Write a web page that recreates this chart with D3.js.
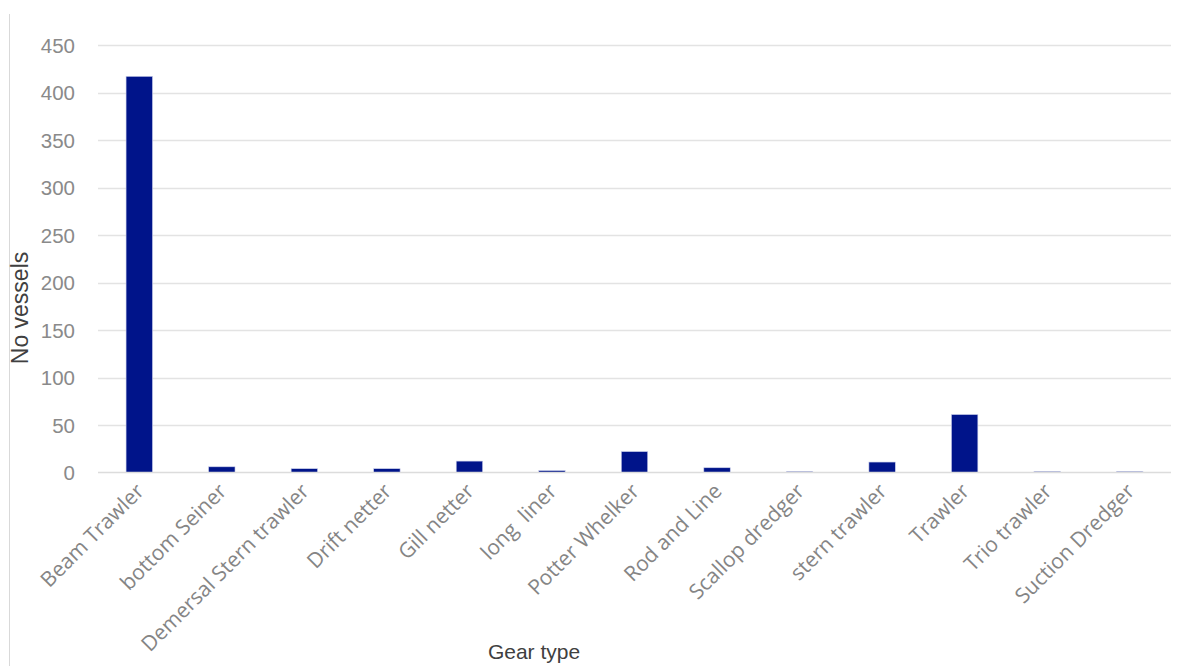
<!DOCTYPE html>
<html>
<head>
<meta charset="utf-8">
<script src="https://cdn.jsdelivr.net/npm/d3@7"></script>
<style>
  html, body { margin: 0; padding: 0; background: #fff; }
  svg { display: block; }
  text { white-space: pre; }
</style>
</head>
<body>
<svg id="chart" width="1181" height="666"></svg>
<script>
// Number of vessels per gear type
const categories = ["Beam Trawler", "bottom Seiner", "Demersal Stern trawler", "Drift netter",
  "Gill netter", "long  liner", "Potter Whelker", "Rod and Line", "Scallop dredger",
  "stern trawler", "Trawler", "Trio trawler", "Suction Dredger"];
const vessels = [417, 6, 4, 4, 12, 2, 22, 5, 1, 11, 61, 1, 1];
const yTicks = [0, 50, 100, 150, 200, 250, 300, 350, 400, 450];

const svg = d3.select("#chart");
const margin = { left: 98, right: 1171, top: 45, bottom: 472.5 };

const x = d3.scaleBand().domain(categories).range([margin.left, margin.right]).paddingInner(0.68).paddingOuter(0.34);
const y = d3.scaleLinear().domain([0, 450]).range([margin.bottom, margin.top]);

// chart frame edge
svg.append("line").attr("x1", 9.5).attr("x2", 9.5).attr("y1", 14).attr("y2", 666)
  .attr("stroke", "#d9d9d9").attr("stroke-width", 1);

// gridlines
svg.append("g").selectAll("line").data(yTicks.filter(d => d > 0)).join("line")
  .attr("x1", margin.left).attr("x2", margin.right)
  .attr("y1", d => Math.round(y(d)) + 0.5).attr("y2", d => Math.round(y(d)) + 0.5)
  .attr("stroke", "#e3e3e3").attr("stroke-width", 1.3);

// y axis labels
const yAxis = d3.axisLeft(y).tickValues(yTicks).tickSize(0).tickPadding(0);
const gy = svg.append("g").attr("transform", `translate(${75},0)`).call(yAxis);
gy.select(".domain").remove();
gy.selectAll("text").attr("font-family", "Liberation Sans, Arial, sans-serif")
  .attr("font-size", 20.5).attr("fill", "#8a8a8a").attr("dy", "0.36em");

// bars
svg.append("g").selectAll("rect").data(vessels).join("rect")
  .attr("x", (d, i) => x(categories[i]))
  .attr("width", x.bandwidth())
  .attr("y", d => y(d))
  .attr("height", d => y(0) - y(d))
  .attr("fill", "#00148a")
  .attr("stroke", "#c9cdea").attr("stroke-width", 0.6);

// baseline
svg.append("line").attr("x1", margin.left).attr("x2", margin.right)
  .attr("y1", y(0)).attr("y2", y(0)).attr("stroke", "#dcdcdc").attr("stroke-width", 1.5);

// x axis labels, rotated
const xAxis = d3.axisBottom(x).tickSize(0).tickPadding(0);
const gx = svg.append("g").attr("transform", `translate(0,${y(0)})`).call(xAxis);
gx.select(".domain").remove();
gx.selectAll("text")
  .attr("font-family", "Open Sans, sans-serif").attr("font-size", 21).attr("fill", "#858585")
  .attr("text-anchor", "end").attr("dy", 0)
  .attr("transform", "translate(6,20) rotate(-45)");

// axis titles
svg.append("text").attr("transform", `translate(28,308) rotate(-90)`)
  .attr("text-anchor", "middle").attr("font-family", "Liberation Sans, Arial, sans-serif")
  .attr("font-size", 23).attr("fill", "#404040").text("No vessels");
svg.append("text").attr("x", 534).attr("y", 659)
  .attr("text-anchor", "middle").attr("font-family", "Liberation Sans, Arial, sans-serif")
  .attr("font-size", 21).attr("fill", "#404040").text("Gear type");
</script>
</body>
</html>
